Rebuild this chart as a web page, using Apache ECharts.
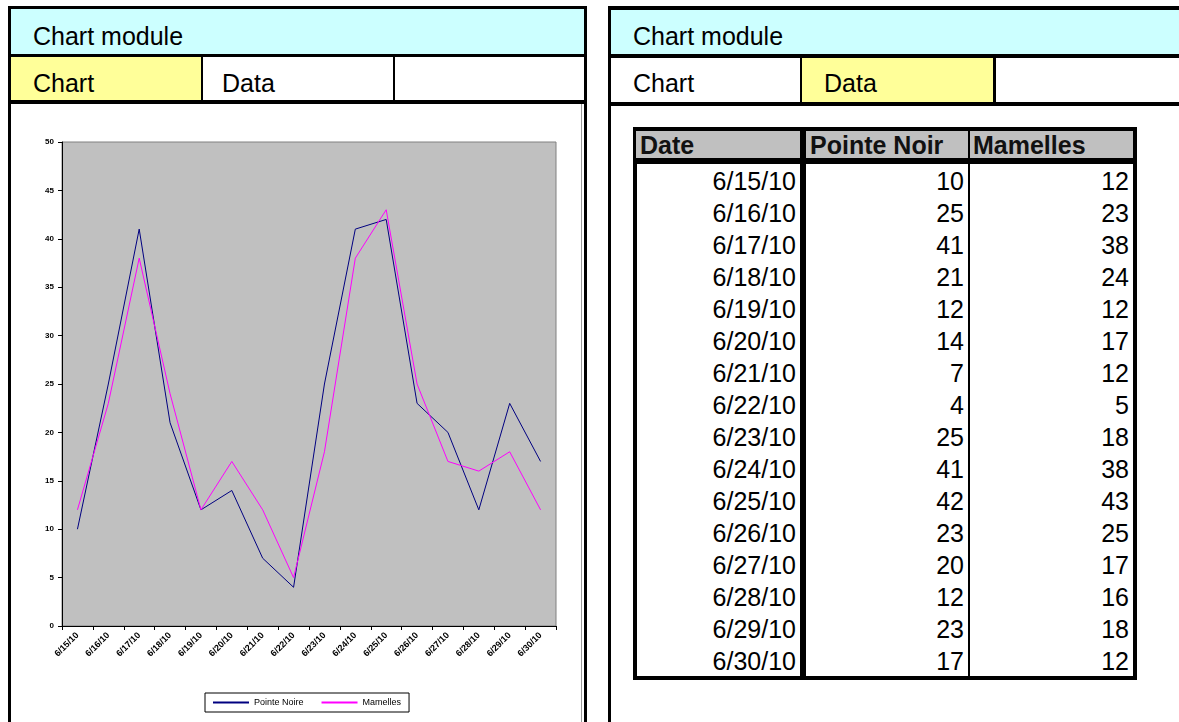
<!DOCTYPE html>
<html>
<head>
<meta charset="utf-8">
<script src="https://cdn.jsdelivr.net/npm/echarts@6/dist/echarts.min.js"></script>
<style>
  body { margin: 0; width: 1179px; height: 722px; overflow: hidden; background: #fff; position: relative;
         font-family: 'Liberation Sans', Arial, sans-serif; color: #000; }
  .abs { position: absolute; box-sizing: border-box; }
  .txt { font-size: 25px; line-height: 1; white-space: nowrap; }
</style>
</head>
<body>
<div id="page"></div>
<div id="lineChart" class="abs" style="left:11px;top:104px;width:571px;height:618px"></div>

<script>
// data
var dates = ['6/15/10', '6/16/10', '6/17/10', '6/18/10', '6/19/10', '6/20/10', '6/21/10', '6/22/10',
             '6/23/10', '6/24/10', '6/25/10', '6/26/10', '6/27/10', '6/28/10', '6/29/10', '6/30/10']
var pointeNoire = [10, 25, 41, 21, 12, 14, 7, 4, 25, 41, 42, 23, 20, 12, 23, 17]
var mamelles = [12, 23, 38, 24, 12, 17, 12, 5, 18, 38, 43, 25, 17, 16, 18, 12]
var tableHeaders = ['Date', 'Pointe Noir', 'Mamelles']
var legendNames = ['Pointe Noire', 'Mamelles']

var page = document.getElementById('page')
function box(css, text) {
  var d = document.createElement('div')
  d.className = 'abs' + (text !== undefined ? ' txt' : '')
  d.style.cssText = css
  if (text !== undefined) d.textContent = text
  page.appendChild(d)
  return d
}

// left panel frame
box('left:8px;top:6px;width:579px;height:760px;border:3px solid #000')
box('left:11px;top:9px;width:573px;height:48px;background:#ccffff;border-bottom:3px solid #000')
box('left:33px;top:24px', 'Chart module')
box('left:11px;top:57px;width:573px;height:47px;border-bottom:4px solid #000')
box('left:11px;top:57px;width:190px;height:43px;background:#ffff99')
box('left:201px;top:57px;width:2px;height:43px;background:#000')
box('left:393px;top:57px;width:2px;height:43px;background:#000')
box('left:33px;top:71px', 'Chart')
box('left:222px;top:71px', 'Data')
box('left:581px;top:104px;width:1px;height:620px;background:#999')

// right panel frame
box('left:608px;top:6px;width:620px;height:760px;border:4px solid #000;border-left-width:3px')
box('left:611px;top:10px;width:620px;height:48px;background:#ccffff;border-bottom:4px solid #000')
box('left:633px;top:24px', 'Chart module')
box('left:611px;top:58px;width:620px;height:48px;border-bottom:4px solid #000')
box('left:802px;top:58px;width:191px;height:44px;background:#ffff99')
box('left:800px;top:58px;width:2px;height:44px;background:#000')
box('left:993px;top:58px;width:3px;height:44px;background:#000')
box('left:633px;top:71px', 'Chart')
box('left:824px;top:71px', 'Data')

// data table
var tTop = 127, rowH = 32, headBottom = 164
var colL = [636, 806, 969], colR = [800, 968, 1133]
box('left:633px;top:' + tTop + 'px;width:504px;height:' + (headBottom + rowH * dates.length + 4 - tTop) + 'px;border:4px solid #000')
box('left:636px;top:131px;width:497px;height:27px;background:#c0c0c0')
box('left:636px;top:158px;width:497px;height:6px;background:#000')
box('left:800px;top:131px;width:6px;height:' + (headBottom + rowH * dates.length - 131) + 'px;background:#000')
box('left:968px;top:131px;width:1.5px;height:' + (headBottom + rowH * dates.length - 131) + 'px;background:#000')
tableHeaders.forEach(function (h, i) {
  box('left:' + (colL[i] + 4) + 'px;top:133px;font-weight:bold;color:#111', h)
})
dates.forEach(function (dt, r) {
  var vals = [dt, pointeNoire[r], mamelles[r]]
  var y = headBottom + r * rowH + 5
  vals.forEach(function (v, c) {
    box('left:' + colL[c] + 'px;top:' + y + 'px;width:' + (colR[c] - colL[c] - 4) + 'px;text-align:right', String(v))
  })
})

// line chart
var chart = echarts.init(document.getElementById('lineChart'))
var axisText = { color: '#000', fontSize: 8, fontWeight: 'bold', fontFamily: 'Arial' }
chart.setOption({
  animation: false,
  color: ['#000080', '#ff00ff'],
  grid: {
    left: 51,
    top: 38,
    width: 494,
    height: 484,
    show: true,
    backgroundColor: '#c0c0c0',
    borderColor: '#808080',
    borderWidth: 1
  },
  xAxis: {
    type: 'category',
    data: dates,
    boundaryGap: true,
    axisLine: { lineStyle: { color: '#000', width: 1 } },
    axisTick: { show: true, length: 4, interval: 0, lineStyle: { color: '#000' } },
    axisLabel: { rotate: 45, interval: 0, margin: 8, fontSize: 9, color: '#000', fontWeight: 'bold', fontFamily: 'Arial' }
  },
  yAxis: {
    type: 'value',
    min: 0,
    max: 50,
    interval: 5,
    axisLine: { show: true, lineStyle: { color: '#000', width: 1 } },
    axisTick: { show: true, length: 4, lineStyle: { color: '#000' } },
    axisLabel: Object.assign({ margin: 8 }, axisText),
    splitLine: { show: false }
  },
  legend: {
    data: legendNames,
    left: 194,
    top: 589,
    orient: 'horizontal',
    icon: 'rect',
    itemWidth: 36,
    itemHeight: 2,
    itemGap: 18,
    padding: [5, 8],
    borderColor: '#000',
    borderWidth: 1,
    backgroundColor: '#fff',
    textStyle: { color: '#000', fontSize: 9, fontFamily: 'Arial' }
  },
  series: [
    { name: legendNames[0], type: 'line', data: pointeNoire, symbol: 'none', lineStyle: { width: 1 } },
    { name: legendNames[1], type: 'line', data: mamelles, symbol: 'none', lineStyle: { width: 1 } }
  ]
})
</script>
</body>
</html>
